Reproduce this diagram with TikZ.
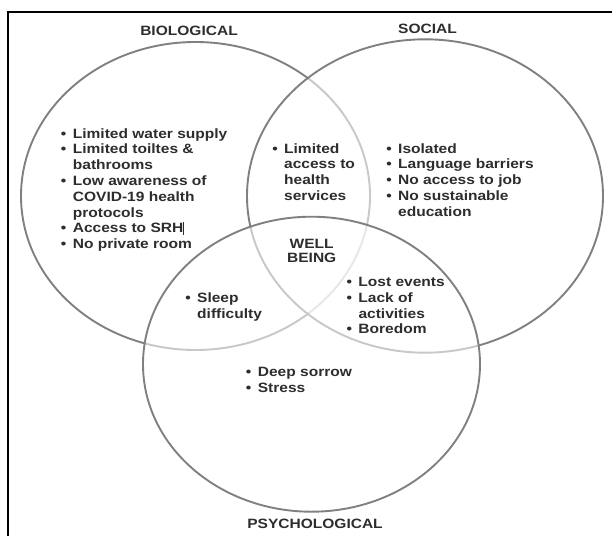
\documentclass[tikz,border=0pt]{standalone}
\usepackage{fontspec}
\setmainfont{Liberation Sans}[FakeStretch=1.15]
\definecolor{ringgray}{RGB}{128,128,128}
\definecolor{txtgray}{RGB}{45,45,45}
\newcommand{\bl}{\llap{\textbullet\hspace{6.5pt}}}

\begin{document}
\begin{tikzpicture}[x=1pt,y=-1pt,
    ring/.style={draw=ringgray,line width=1.9pt,fill=white,fill opacity=0.57},
    items/.style={anchor=base west,align=left,inner sep=0pt,text=txtgray,font=\fontsize{13.5}{15.8}\selectfont\bfseries},
    title/.style={anchor=base,align=center,inner sep=0pt,text=txtgray,font=\fontsize{13.5}{14.5}\selectfont\bfseries}]
    \useasboundingbox (0,0) rectangle (612,535);
    \draw [line width=2pt] (8,540)--(8,12)--(617,12);
    \draw [ring] (195.5,196) ellipse [x radius=174.5,y radius=154];
    \draw [ring] (425,196) ellipse [x radius=178,y radius=156.7];
    \draw [ring] (311.5,364.2) ellipse [x radius=168.5,y radius=147.5];
    % base anchor of a multi-line node sits on its last line
    \node (biolabel) [title] at (189,35.8) {BIOLOGICAL};
    \node (soclabel) [title] at (427.5,33.3) {SOCIAL};
    \node (psylabel) [title] at (315,528.8) {PSYCHOLOGICAL};
    \node (wellbeing) [title] at (311.7,262.6) {WELL\\BEING};
    \node (bioitems) [items] at (72.7,248.7) {\bl Limited water supply\\\bl Limited toiltes \&\\bathrooms\\\bl Low awareness of\\COVID-19 health\\protocols\\\bl Access to SRH\rule[-2pt]{0.6pt}{12.5pt}\\\bl No private room};
    \node (healthitems) [items] at (284,200.5) {\bl Limited\\access to\\health\\services};
    \node (socitems) [items] at (398,216.3) {\bl Isolated\\\bl Language barriers\\\bl No access to job\\\bl No sustainable\\education};
    \node (sleepitems) [items] at (197,318.1) {\bl Sleep\\difficulty};
    \node (lostitems) [items] at (358.3,333.9) {\bl Lost events\\\bl Lack of\\activities\\\bl Boredom};
    \node (psyitems) [items] at (257.7,392.3) {\bl Deep sorrow\\\bl Stress};
\end{tikzpicture}
\end{document}
